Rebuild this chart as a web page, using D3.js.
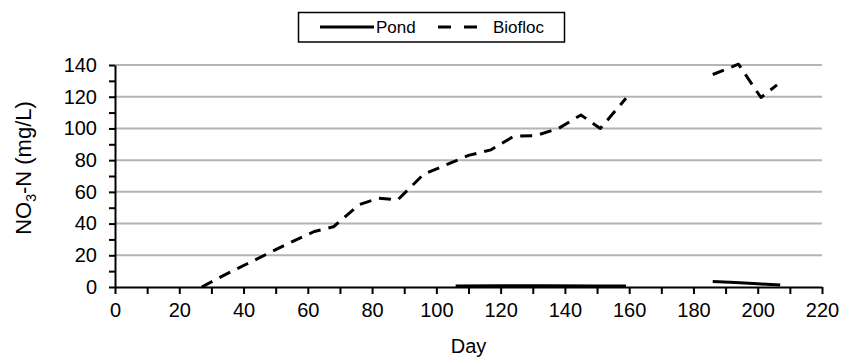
<!DOCTYPE html>
<html>
<head>
<meta charset="utf-8">
<script src="https://cdn.jsdelivr.net/npm/d3@7"></script>
<style>
  html, body { margin: 0; padding: 0; background: #fff; }
  svg { display: block; font-family: "Liberation Sans", Arial, sans-serif; }
</style>
</head>
<body>
<svg id="chart" width="841" height="358"></svg>
<script>
// Nitrate-N over the culture period, two systems (pond vs biofloc)
const seriesNames = ["Pond", "Biofloc"];

// Pond: two sampling stretches, values stay near zero
const pondDays1 = [106, 120, 135, 150, 159];
const pondNO3_1 = [0.6, 0.8, 0.8, 0.7, 0.6];
const pondDays2 = [186, 193, 200, 207];
const pondNO3_2 = [3.5, 2.8, 2.0, 1.2];

// Biofloc: steady accumulation, then a second stretch after the gap
const biofDays1 = [27, 34, 41, 48, 55, 62, 68, 76, 82, 88, 96, 103, 110, 117, 124, 131, 138, 145, 151, 159];
const biofNO3_1 = [0, 7.5, 14.5, 21.5, 28.5, 35, 38, 52, 56, 55, 71, 77, 83, 86.5, 95, 95.5, 100, 108.5, 100, 119];
const biofDays2 = [186, 194, 201, 206];
const biofNO3_2 = [134, 140.5, 119.5, 127.5];

const xTicks = [0, 20, 40, 60, 80, 100, 120, 140, 160, 180, 200, 220];
const yTicks = [0, 20, 40, 60, 80, 100, 120, 140];

const svg = d3.select("#chart");
const m = { left: 115, right: 19, top: 65, bottom: 71 };
const W = 841, H = 358;

const x = d3.scaleLinear().domain([0, 220]).range([m.left, W - m.right]);
const y = d3.scaleLinear().domain([0, 140]).range([H - m.bottom, m.top]);

// horizontal gridlines
svg.append("g").selectAll("line")
  .data(yTicks.filter(d => d > 0))
  .join("line")
  .attr("x1", x(0)).attr("x2", x(220))
  .attr("y1", d => y(d)).attr("y2", d => y(d))
  .attr("stroke", "#b4b4b4").attr("stroke-width", 2);

const zip = (a, b) => a.map((d, i) => [d, b[i]]);
const line = d3.line().x(d => x(d[0])).y(d => y(d[1]));

const lineStyle = { stroke: "#000", width: 3 };

// Pond (solid)
[zip(pondDays1, pondNO3_1), zip(pondDays2, pondNO3_2)].forEach(seg => {
  svg.append("path").datum(seg)
    .attr("d", line)
    .attr("fill", "none")
    .attr("stroke", lineStyle.stroke)
    .attr("stroke-width", lineStyle.width)
    .attr("stroke-linejoin", "round");
});

// Biofloc (dashed)
[zip(biofDays1, biofNO3_1), zip(biofDays2, biofNO3_2)].forEach(seg => {
  svg.append("path").datum(seg)
    .attr("d", line)
    .attr("fill", "none")
    .attr("stroke", lineStyle.stroke)
    .attr("stroke-width", lineStyle.width)
    .attr("stroke-dasharray", "12,8")
    .attr("stroke-linejoin", "round");
});

// axes
const fmt = d => (d % 20 === 0 ? d : "");
const xAxis = svg.append("g")
  .attr("transform", `translate(0,${y(0)})`)
  .call(d3.axisBottom(x).tickValues(d3.range(0, 221, 10)).tickFormat(fmt).tickSizeInner(7).tickSizeOuter(0).tickPadding(9));
const yAxis = svg.append("g")
  .attr("transform", `translate(${x(0)},0)`)
  .call(d3.axisLeft(y).tickValues(d3.range(0, 141, 10)).tickFormat(fmt).tickSizeInner(6).tickSizeOuter(0).tickPadding(12));

[xAxis, yAxis].forEach(g => {
  g.select(".domain").attr("stroke", "#000").attr("stroke-width", 2);
  g.selectAll(".tick line").attr("stroke", "#000").attr("stroke-width", 2);
  g.selectAll(".tick text")
    .attr("fill", "#000")
    .style("font-size", "20px")
    .style("font-family", "'Liberation Sans', Arial, sans-serif");
});

// axis titles
svg.append("text")
  .attr("x", x(110)).attr("y", 353)
  .attr("text-anchor", "middle")
  .style("font-size", "20px")
  .attr("fill", "#000")
  .text("Day");

const yTitle = svg.append("text")
  .attr("transform", `translate(31,168) rotate(-90)`)
  .attr("text-anchor", "middle")
  .style("font-size", "22px")
  .attr("fill", "#000");
yTitle.append("tspan").text("NO");
yTitle.append("tspan").attr("dy", 5).style("font-size", "14px").text("3");
yTitle.append("tspan").attr("dy", -5).text("-N (mg/L)");

// legend
const lg = svg.append("g");
lg.append("rect")
  .attr("x", 298.5).attr("y", 12.5).attr("width", 266).attr("height", 29.5)
  .attr("fill", "#fff").attr("stroke", "#000").attr("stroke-width", 1.5);
const items = [
  { name: seriesNames[0], x1: 320, x2: 374, dash: null, tx: 376 },
  { name: seriesNames[1], x1: 438, x2: 479, dash: "13,13", tx: 493 }
];
items.forEach(it => {
  lg.append("line")
    .attr("x1", it.x1).attr("x2", it.x2).attr("y1", 27).attr("y2", 27)
    .attr("stroke", "#000").attr("stroke-width", 3)
    .attr("stroke-dasharray", it.dash);
  lg.append("text")
    .attr("x", it.tx).attr("y", 33)
    .style("font-size", "17px")
    .attr("fill", "#000")
    .text(it.name);
});
</script>
</body>
</html>
